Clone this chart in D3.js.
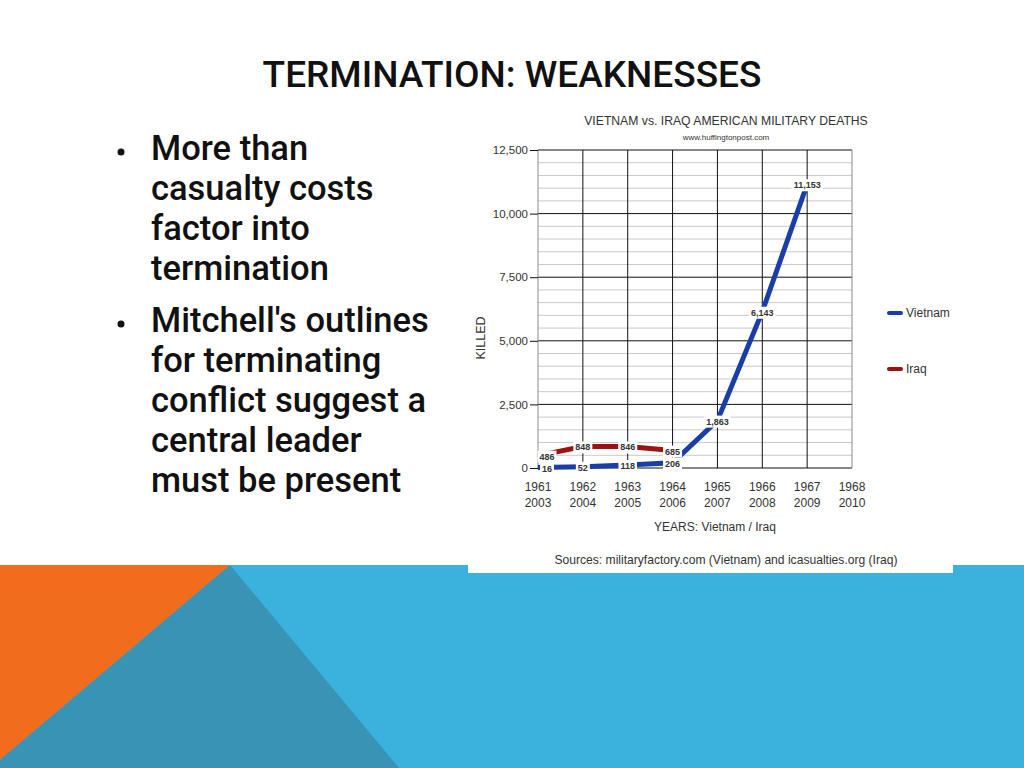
<!DOCTYPE html>
<html>
<head>
<meta charset="utf-8">
<script src="https://cdn.jsdelivr.net/npm/d3@7"></script>
<style>
  body { margin: 0; background: #fff; }
  svg { display: block; }
  .slide-text { font-family: Roboto, "Noto Sans", sans-serif; font-weight: 500; fill: #111; }
  .chart-text { font-family: "Liberation Sans", Arial, sans-serif; fill: #333; }
</style>
</head>
<body>
<div id="slide"></div>
<script>
// Chart data
var vietnamYears = ["1961", "1962", "1963", "1964", "1965", "1966", "1967", "1968"];
var iraqYears = ["2003", "2004", "2005", "2006", "2007", "2008", "2009", "2010"];
var vietnamDeaths = [16, 52, 118, 206, 1863, 6143, 11153];
var iraqDeaths = [486, 848, 846, 685];
var yTicks = [0, 2500, 5000, 7500, 10000, 12500];

var bullets = [
  ["More than", "casualty costs", "factor into", "termination"],
  ["Mitchell's outlines", "for terminating", "conflict suggest a", "central leader", "must be present"]
];

var svg = d3.select("#slide")
  .append("svg")
  .attr("width", 1024)
  .attr("height", 768);

// Slide background shapes
svg.append("rect").attr("x", 0).attr("y", 565).attr("width", 1024).attr("height", 203).attr("fill", "#3bb1de");
svg.append("polygon").attr("points", "0,565 230,565 0,760").attr("fill", "#f26c1e");
svg.append("polygon").attr("points", "230,565 399,768 0,768 0,760").attr("fill", "#3893b5");

// Slide title
svg.append("text")
  .attr("class", "slide-text")
  .attr("x", 512).attr("y", 87)
  .attr("text-anchor", "middle")
  .attr("font-size", 37)
  .text("TERMINATION: WEAKNESSES");

// Bullets
var lineY = 160;
bullets.forEach(function(b, bi) {
  if (bi > 0) lineY += 12;
  svg.append("circle").attr("cx", 121).attr("cy", lineY - 8).attr("r", 3.5).attr("fill", "#111");
  b.forEach(function(line) {
    svg.append("text")
      .attr("class", "slide-text")
      .attr("x", 151).attr("y", lineY)
      .attr("font-size", 34.5)
      .text(line);
    lineY += 40;
  });
});

// Chart picture box
svg.append("rect").attr("x", 468).attr("y", 105).attr("width", 485).attr("height", 468).attr("fill", "#fff");

var chart = svg.append("g");

var x = d3.scaleLinear().domain([0, 7]).range([538, 852]);
var y = d3.scaleLinear().domain([0, 12500]).range([468, 150]);

// minor grid
chart.selectAll("line.minor")
  .data(d3.range(500, 12500, 500).filter(function(v) { return v % 2500 !== 0; }))
  .enter().append("line")
  .attr("x1", x(0)).attr("x2", x(7))
  .attr("y1", d => y(d)).attr("y2", d => y(d))
  .attr("stroke", "#c9c9c9").attr("stroke-width", 1);

// major grid
chart.selectAll("line.major")
  .data(yTicks)
  .enter().append("line")
  .attr("x1", x(0)).attr("x2", x(7))
  .attr("y1", d => y(d)).attr("y2", d => y(d))
  .attr("stroke", "#111").attr("stroke-width", 1);

// vertical grid
chart.selectAll("line.vert")
  .data(d3.range(0, 8))
  .enter().append("line")
  .attr("x1", d => x(d)).attr("x2", d => x(d))
  .attr("y1", y(12500)).attr("y2", y(0))
  .attr("stroke", d => (d === 0 || d === 7) ? "#8a8a8a" : "#111")
  .attr("stroke-width", 1);

// Y axis
var yAxis = d3.axisLeft(y).tickValues(yTicks).tickFormat(d3.format(",")).tickSize(8).tickPadding(2);
var yg = chart.append("g").attr("transform", `translate(${x(0)},0)`).call(yAxis);
yg.select(".domain").remove();
yg.selectAll("line").attr("stroke", "#111");
yg.selectAll("text").attr("class", "chart-text").attr("font-size", 11.5).attr("fill", "#333");

// X axis labels (two rows)
var xg = chart.append("g");
vietnamYears.forEach(function(v, i) {
  var t = xg.append("text").attr("class", "chart-text").attr("text-anchor", "middle").attr("font-size", 12);
  t.append("tspan").attr("x", x(i)).attr("y", 491).text(v);
  t.append("tspan").attr("x", x(i)).attr("y", 507).text(iraqYears[i]);
});

// Titles
chart.append("text").attr("class", "chart-text")
  .attr("x", 726).attr("y", 125).attr("text-anchor", "middle")
  .attr("font-size", 12.2).text("VIETNAM vs. IRAQ AMERICAN MILITARY DEATHS");
chart.append("text").attr("class", "chart-text")
  .attr("x", 726).attr("y", 140).attr("text-anchor", "middle")
  .attr("font-size", 8).text("www.huffingtonpost.com");
chart.append("text").attr("class", "chart-text")
  .attr("transform", "translate(485,338) rotate(-90)").attr("text-anchor", "middle")
  .attr("font-size", 12.5).text("KILLED");
chart.append("text").attr("class", "chart-text")
  .attr("x", 715).attr("y", 531).attr("text-anchor", "middle")
  .attr("font-size", 12).text("YEARS: Vietnam / Iraq");
chart.append("text").attr("class", "chart-text")
  .attr("x", 726).attr("y", 564).attr("text-anchor", "middle")
  .attr("font-size", 12.1).text("Sources: militaryfactory.com (Vietnam) and icasualties.org (Iraq)");

// Series lines
var line = d3.line().x((d, i) => x(i)).y(d => y(d));
var series = [
  { name: "Iraq", values: iraqDeaths, color: "#9c1111", legendY: 369 },
  { name: "Vietnam", values: vietnamDeaths, color: "#1a3ea8", legendY: 313 }
];

series.forEach(function(s) {
  chart.append("path")
    .datum(s.values)
    .attr("d", line)
    .attr("fill", "none")
    .attr("stroke", s.color)
    .attr("stroke-width", 5);
});

// Point labels with white boxes
var fmt = d3.format(",");
series.forEach(function(s) {
  s.values.forEach(function(v, i) {
    var cx = x(i) + (i === 0 ? 9 : 0);
    var cy = y(v) + 1;
    var g = chart.append("g");
    var t = g.append("text").attr("class", "chart-text")
      .attr("x", cx).attr("y", cy + 3)
      .attr("text-anchor", "middle")
      .attr("font-size", 9).attr("font-weight", "bold").attr("fill", "#222")
      .text(fmt(v));
    var bb = t.node().getBBox();
    g.insert("rect", "text")
      .attr("x", bb.x - 2).attr("y", bb.y - 1)
      .attr("width", bb.width + 4).attr("height", bb.height + 2)
      .attr("fill", "#fff");
  });
});

// Legend
series.forEach(function(s) {
  chart.append("line")
    .attr("x1", 889).attr("x2", 901)
    .attr("y1", s.legendY).attr("y2", s.legendY)
    .attr("stroke", s.color).attr("stroke-width", 4).attr("stroke-linecap", "round");
  chart.append("text").attr("class", "chart-text")
    .attr("x", 906).attr("y", s.legendY + 4)
    .attr("font-size", 12).text(s.name);
});
</script>
</body>
</html>
